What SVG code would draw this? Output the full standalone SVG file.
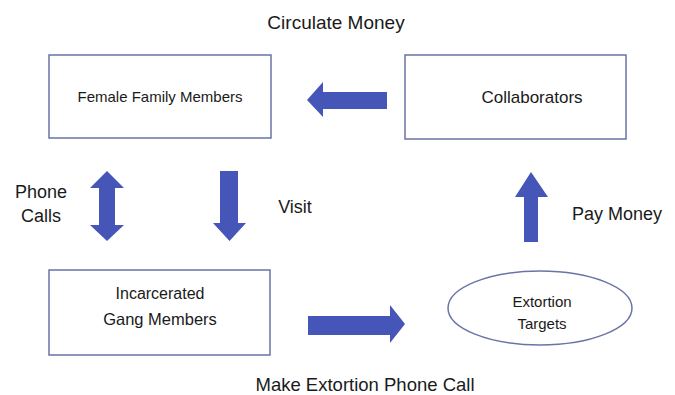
<svg xmlns="http://www.w3.org/2000/svg" width="675" height="395" viewBox="0 0 675 395">
<style>
.node{fill:#ffffff;stroke:#6a73a6;stroke-width:1.5}
.arrow{fill:#4656b8;stroke:none}
text{font-family:"Liberation Sans",Arial,sans-serif;fill:#1a1a1a;text-anchor:middle}
</style>
<rect width="675" height="395" fill="#ffffff"/>
<g id="female-family-members">
<rect class="node" x="49" y="55" width="222" height="83"/>
<text x="160" y="102" font-size="15">Female Family Members</text>
</g>
<g id="collaborators">
<rect class="node" x="405" y="55" width="221" height="84"/>
<text x="532" y="103" font-size="17">Collaborators</text>
</g>
<g id="incarcerated-gang-members">
<rect class="node" x="49" y="270" width="221" height="85"/>
<text x="160" y="299" font-size="16">Incarcerated</text>
<text x="160" y="325" font-size="16.5">Gang Members</text>
</g>
<g id="extortion-targets">
<ellipse class="node" cx="540" cy="308" rx="92" ry="37"/>
<text x="542" y="307" font-size="15">Extortion</text>
<text x="542" y="329" font-size="15">Targets</text>
</g>
<g id="connectors">
<polygon class="arrow" points="307,100 323,82 323,92 387,92 387,109 323,109 323,117"/>
<polygon class="arrow" points="107,171 124,188 115,188 115,225 124,225 107,241 90,225 99,225 99,188 90,188"/>
<polygon class="arrow" points="220,171 238,171 238,223 246,223 229.5,241 213,223 220,223"/>
<polygon class="arrow" points="308,316 390,316 390,305 405,324 390,343 390,335 308,335"/>
<polygon class="arrow" points="531,172 548,197 538,197 538,242 524,242 524,197 515,197"/>
</g>
<g id="labels">
<text x="336" y="29" font-size="19">Circulate Money</text>
<text x="41" y="198" font-size="18">Phone</text>
<text x="41" y="222" font-size="18">Calls</text>
<text x="295" y="213" font-size="18">Visit</text>
<text x="617" y="220" font-size="18">Pay Money</text>
<text x="365" y="391" font-size="18.5">Make Extortion Phone Call</text>
</g>
</svg>
